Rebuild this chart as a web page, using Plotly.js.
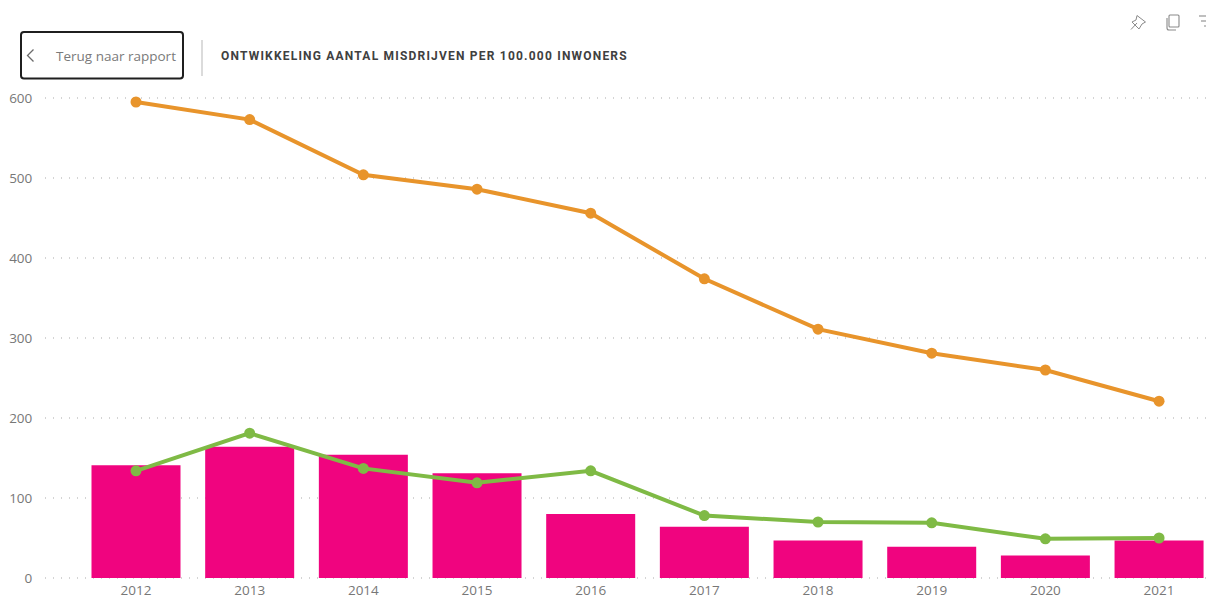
<!DOCTYPE html>
<html>
<head>
<meta charset="utf-8">
<script src="https://cdn.plot.ly/plotly-3.0.1.min.js"></script>
<style>
html,body{margin:0;padding:0;background:#fff;overflow:hidden}
#chart{width:1206px;height:601px}
.gtitle{letter-spacing:1.2px}
</style>
</head>
<body>
<div id="chart"></div>
<script>
const years = ["2012","2013","2014","2015","2016","2017","2018","2019","2020","2021"];
const barValues = [141,164,154,131,80,64,47,39,28,47];
const orangeValues = [595,573,504,486,456,374,311,281,260,221];
const greenValues = [134,181,137,119,134,78,70,69,49,50];
const yTicks = [0,100,200,300,400,500,600];
const chartTitle = "ONTWIKKELING AANTAL MISDRIJVEN PER 100.000 INWONERS";
const backLabel = "Terug naar rapport";

const W=1206,H=601,L=45,R=0,T=96,B=21;
const px=x=>(x-L)/(W-L-R), py=y=>1-(y-T)/(H-T-B);
// chrome path helper: [["M",x,y],["L",x,y],["Q",cx,cy,x,y],["Z"]] in page pixels
const path=segs=>segs.map(s=>{
  let o=s[0];
  for(let i=1;i<s.length;i+=2){o+=(i>1?" ":"")+px(s[i]).toFixed(5)+","+py(s[i+1]).toFixed(5);}
  return o;
}).join(" ");
const chrome=(segs,color,width,fill)=>({type:"path",xref:"paper",yref:"paper",path:path(segs),
  line:{color:color,width:width},fillcolor:fill||"rgba(0,0,0,0)",layer:"above"});

const btn=(x0,y0,x1,y1,r)=>[["M",x0+r,y0],["L",x1-r,y0],["Q",x1,y0,x1,y0+r],["L",x1,y1-r],["Q",x1,y1,x1-r,y1],["L",x0+r,y1],["Q",x0,y1,x0,y1-r],["L",x0,y0+r],["Q",x0,y0,x0+r,y0],["Z"]];

const shapes=[
  chrome(btn(21,32,183,78.5,3),"#1f1f1f",2),
  chrome([["M",33.5,49.5],["L",27.5,55.5],["L",33.5,61.5]],"#6b6b6b",1.3),
  chrome([["M",202,40],["L",202,76]],"#c4c4c4",1.2),
  // pin
  chrome([["M",1137,23],["L",1131,29.5]],"#8a8a8a",1),
  chrome([["M",1137,15.5],["L",1145.5,22],["L",1142,24],["L",1139,29],["L",1132,22],["L",1136,20],["Z"]],"#8a8a8a",1),
  // copy
  chrome(btn(1169,15,1179,27,1),"#8a8a8a",1.1),
  chrome([["M",1167,18],["L",1167,28],["Q",1167,30,1169,30],["L",1176,30]],"#8a8a8a",1.1),
  // filter (cut at the window edge)
  chrome([["M",1199,16],["L",1206,16]],"#8a8a8a",1.1),
  chrome([["M",1201,21],["L",1206,21]],"#8a8a8a",1.1),
  chrome([["M",1204,26],["L",1206,26]],"#8a8a8a",1.1)
];

const data=[
 {type:"bar",x:years,y:barValues,width:0.783,marker:{color:"#F0047F",line:{width:0}},hoverinfo:"skip"},
 {type:"scatter",mode:"lines+markers",x:years,y:orangeValues,line:{color:"#E8942B",width:4},marker:{color:"#E8942B",size:11},cliponaxis:false,hoverinfo:"skip"},
 {type:"scatter",mode:"lines+markers",x:years,y:greenValues,line:{color:"#7FBA45",width:4},marker:{color:"#7FBA45",size:11},cliponaxis:false,hoverinfo:"skip"}
];

const layout={
  width:W,height:H,showlegend:false,paper_bgcolor:"#fff",plot_bgcolor:"#fff",
  margin:{l:L,r:R,t:T,b:B,pad:0},
  font:{family:"'Open Sans', sans-serif",color:"#777"},
  title:{text:chartTitle,font:{family:"Roboto, sans-serif",size:12,weight:700,color:"#404040"},
    xref:"paper",yref:"container",x:px(221),xanchor:"left",y:1-55.5/H,yanchor:"middle"},
  xaxis:{type:"category",range:[-0.8006,9.413],showgrid:false,zeroline:false,showline:false,
    ticks:"",tickfont:{size:13.5,color:"#777"},fixedrange:true},
  yaxis:{range:[-2.5,602.5],tickvals:yTicks,showgrid:true,gridcolor:"#d4d4d4",griddash:"1px,7px",gridwidth:1.2,
    zeroline:false,showline:false,ticks:"outside",ticklen:9,tickcolor:"rgba(0,0,0,0)",tickfont:{size:13.5,color:"#777"},fixedrange:true},
  shapes:shapes,
  annotations:[{text:backLabel,xref:"paper",yref:"paper",x:px(54),y:py(55.5),xanchor:"left",yanchor:"middle",
    showarrow:false,font:{family:"'Open Sans', sans-serif",size:13.5,color:"#7a7a7a"}}]
};
Plotly.newPlot("chart",data,layout,{displayModeBar:false,staticPlot:true});
</script>
</body>
</html>
